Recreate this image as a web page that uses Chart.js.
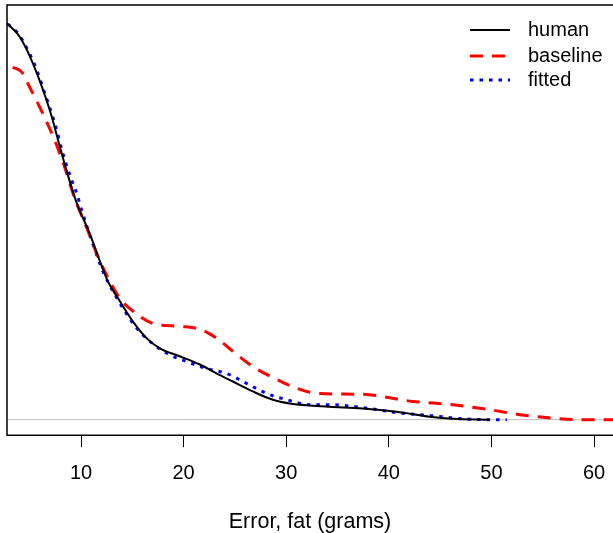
<!DOCTYPE html>
<html>
<head>
<meta charset="utf-8">
<script src="https://cdn.jsdelivr.net/npm/chart.js@4/dist/chart.umd.min.js"></script>
<style>
    html, body { margin: 0; padding: 0; background: #fff; }
    #wrap { width: 613px; height: 533px; }
</style>
</head>
<body>
<div id="wrap"><canvas id="densityChart"></canvas></div>
<script>
// Density curves (x = error in grams, y = density)
const humanX = [2.77, 4.04, 5.30, 6.96, 8.23, 9.50, 10.86, 11.83, 12.61, 13.78, 15.05, 16.41, 17.68, 19.63, 21.58, 23.24, 24.80, 26.75, 28.70, 30.35, 32.30, 34.25, 37.47, 40.78, 44.0, 46.24, 49.85];
const humanY = [0.0956, 0.0923, 0.0860, 0.0746, 0.0632, 0.0528, 0.0448, 0.0383, 0.0334, 0.0286, 0.0237, 0.0196, 0.0172, 0.0153, 0.0133, 0.0111, 0.0092, 0.0068, 0.0048, 0.0039, 0.0034, 0.0031, 0.0027, 0.0019, 0.0007, 0.0002, 0];

const baselineX = [3.35, 4.23, 5.01, 6.28, 7.45, 8.42, 9.30, 10.57, 11.83, 12.81, 13.78, 15.05, 17.00, 19.63, 21.58, 23.24, 24.80, 26.75, 29.09, 31.33, 33.28, 37.47, 42.34, 46.24, 49.85, 52.77, 55.40, 58.62, 61.85];
const baselineY = [0.0850, 0.0838, 0.0801, 0.0738, 0.0673, 0.0608, 0.0540, 0.0462, 0.0383, 0.0334, 0.0293, 0.0262, 0.0232, 0.0225, 0.0218, 0.0196, 0.0165, 0.0128, 0.0097, 0.0073, 0.0063, 0.0061, 0.0044, 0.0036, 0.0024, 0.0012, 0.0005, 0, 0];

const fittedX = [2.87, 3.84, 4.82, 5.69, 6.47, 7.45, 8.23, 9.11, 9.59, 10.08, 11.15, 12.13, 13.10, 14.08, 15.44, 16.71, 18.36, 20.31, 22.26, 24.21, 26.16, 28.11, 30.06, 32.30, 34.25, 37.47, 40.78, 44.0, 47.21, 49.55, 51.5];
const fittedY = [0.0954, 0.0932, 0.0891, 0.0843, 0.0787, 0.0714, 0.0642, 0.0576, 0.0545, 0.0504, 0.0424, 0.0358, 0.0310, 0.0269, 0.0220, 0.0189, 0.0160, 0.0140, 0.0123, 0.0111, 0.0087, 0.0063, 0.0048, 0.0036, 0.0036, 0.0029, 0.0017, 0.0010, 0.0002, 0, 0];

const xTicks = [10, 20, 30, 40, 50, 60];

const FONT = 'Liberation Sans, Arial, sans-serif';

function toPoints(xs, ys) {
    return xs.map((x, i) => ({ x: x, y: ys[i] }));
}

// Draws the open box, the zero line and the legend
const framePlugin = {
    id: 'frame',
    beforeDatasetsDraw(chart) {
        const { ctx, chartArea, scales } = chart;
        const y0 = scales.y.getPixelForValue(0);
        ctx.save();
        ctx.strokeStyle = '#bebebe';
        ctx.lineWidth = 1;
        ctx.beginPath();
        ctx.moveTo(chartArea.left, y0);
        ctx.lineTo(chart.width, y0);
        ctx.stroke();
        ctx.restore();
    },
    afterDraw(chart) {
        const { ctx, chartArea } = chart;
        ctx.save();
        ctx.strokeStyle = '#000';
        ctx.lineWidth = 1.5;
        ctx.beginPath();
        ctx.moveTo(chart.width, chartArea.top);
        ctx.lineTo(chartArea.left, chartArea.top);
        ctx.lineTo(chartArea.left, chartArea.bottom);
        ctx.lineTo(chart.width, chartArea.bottom);
        ctx.stroke();

        // legend
        const rows = [30, 56, 80];
        chart.data.datasets.forEach((ds, i) => {
            const y = rows[i];
            ctx.strokeStyle = ds.borderColor;
            ctx.lineWidth = ds.borderWidth;
            ctx.setLineDash(ds.borderDash || []);
            ctx.beginPath();
            ctx.moveTo(470, y);
            ctx.lineTo(510, y);
            ctx.stroke();
            ctx.setLineDash([]);
            ctx.fillStyle = '#000';
            ctx.font = '20px ' + FONT;
            ctx.textBaseline = 'middle';
            ctx.textAlign = 'left';
            ctx.fillText(ds.label, 528, y);
        });
        ctx.restore();
    }
};

new Chart(document.getElementById('densityChart').getContext('2d'), {
    type: 'line',
    data: {
        datasets: [
            {
                label: 'human',
                data: toPoints(humanX, humanY),
                borderColor: '#000000',
                borderWidth: 2,
                pointRadius: 0,
                cubicInterpolationMode: 'monotone'
            },
            {
                label: 'baseline',
                data: toPoints(baselineX, baselineY),
                borderColor: '#ff0000',
                borderWidth: 3,
                borderDash: [13, 9],
                pointRadius: 0,
                cubicInterpolationMode: 'monotone'
            },
            {
                label: 'fitted',
                data: toPoints(fittedX, fittedY),
                borderColor: '#0000ff',
                borderWidth: 3,
                borderDash: [3.5, 6],
                pointRadius: 0,
                cubicInterpolationMode: 'monotone'
            }
        ]
    },
    options: {
        responsive: true,
        maintainAspectRatio: false,
        animation: false,
        layout: { padding: { left: 7, top: 5, right: 0, bottom: 0 } },
        plugins: {
            legend: { display: false },
            tooltip: { enabled: false }
        },
        scales: {
            x: {
                type: 'linear',
                min: 2.787,
                max: 61.85,
                afterBuildTicks: (axis) => {
                    axis.ticks = xTicks.map(v => ({ value: v }));
                },
                afterFit: (axis) => {
                    // plot region runs right up to the edge, like the original
                    axis.paddingLeft = 0;
                    axis.paddingRight = 0;
                },
                border: { display: false },
                grid: {
                    drawOnChartArea: false,
                    drawTicks: true,
                    tickLength: 12,
                    color: '#000',
                    lineWidth: 1
                },
                ticks: {
                    color: '#000',
                    font: { family: FONT, size: 20 },
                    padding: 14,
                    maxRotation: 0
                },
                title: {
                    display: true,
                    text: 'Error, fat (grams)',
                    color: '#000',
                    font: { family: FONT, size: 21.5 },
                    padding: { top: 10, bottom: -2 }
                }
            },
            y: {
                display: false,
                min: -0.00375,
                max: 0.1
            }
        }
    },
    plugins: [framePlugin]
});
</script>
</body>
</html>
